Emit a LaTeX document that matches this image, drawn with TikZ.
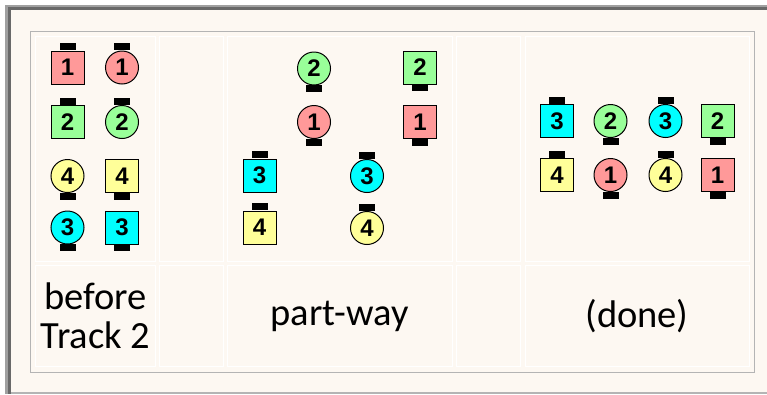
\documentclass[tikz,border=0pt]{standalone}
\usepackage{fontspec}
\setmainfont{Carlito}
\newfontfamily\digfont{Liberation Sans}
\definecolor{cream}{RGB}{253,248,242}
\definecolor{tabgray}{RGB}{180,180,180}
\definecolor{redf}{RGB}{255,153,153}
\definecolor{greenf}{RGB}{153,255,153}
\definecolor{yellowf}{RGB}{255,255,153}
\definecolor{cyanf}{RGB}{0,255,255}
\definecolor{lightband}{RGB}{160,160,160}
\definecolor{darkband}{RGB}{105,105,105}
\tikzset{
  sq/.style={draw=black, line width=1pt, minimum size=33pt, inner sep=0pt, text=black,
    font=\digfont\bfseries\fontsize{24}{24}\selectfont},
  ci/.style={circle, draw=black, line width=1pt, minimum size=33pt, inner sep=0pt, text=black,
    font=\digfont\bfseries\fontsize{24}{24}\selectfont},
  tabbox/.style={fill=black, draw=none, minimum width=16pt, minimum height=7pt, inner sep=0pt, outer sep=0pt},
  tabnorth/.style={anchor=south},
  tabsouth/.style={anchor=north},
  cellbox/.style={fill=cream, draw=white, line width=1pt},
  lab/.style={align=center, font=\fontsize{38.5}{39}\selectfont, text=black, inner sep=0pt}
}
% name, shape, fill, x, y, digit, tab side
\newcommand\tok[7]{%
  \node[#2, fill=#3] (#1) at (#4,#5) {#6};
  \node[tabbox, tab#7] (#1t) at ([yshift=\ifx#7north-0.5pt\else0.5pt\fi]#1.#7) {};
}
\begin{document}
\begin{tikzpicture}[x=1pt,y=-1pt]
\useasboundingbox (0,0) rectangle (767,394);
\fill[white] (0,0) rectangle (767,394);
\fill[lightband] (5,5) rectangle (767,394);
\fill[darkband] (8,7) rectangle (767,394);
\fill[tabgray] (11,10) rectangle (767,394);
\fill[cream] (11,10) rectangle (767,392);
% table
\draw[tabgray, line width=1pt, fill=cream] (30.5,31.5) rectangle (754.5,372.5);
\foreach \xa/\xb in {35/155,159/223,227/452,456/520,525/749}{
  \draw[cellbox] (\xa+0.5,36.5) rectangle (\xb+0.5,261.5);
  \draw[cellbox] (\xa+0.5,265.5) rectangle (\xb+0.5,366.5);
}
% column 1: before
\tok{a1}{sq}{redf}{67.5}{67.5}{1}{north}
\tok{a2}{ci}{redf}{122}{67.5}{1}{north}
\tok{a3}{sq}{greenf}{67.5}{122}{2}{north}
\tok{a4}{ci}{greenf}{122}{122}{2}{north}
\tok{a5}{ci}{yellowf}{67.5}{176}{4}{south}
\tok{a6}{sq}{yellowf}{122}{176}{4}{south}
\tok{a7}{ci}{cyanf}{67.5}{227.5}{3}{south}
\tok{a8}{sq}{cyanf}{122}{227.5}{3}{south}
% column 3: part-way
\tok{b1}{ci}{greenf}{314}{68.5}{2}{south}
\tok{b2}{sq}{greenf}{420}{67.5}{2}{south}
\tok{b3}{ci}{redf}{314}{122}{1}{south}
\tok{b4}{sq}{redf}{420}{122}{1}{south}
\tok{b5}{sq}{cyanf}{259.5}{175.5}{3}{north}
\tok{b6}{ci}{cyanf}{367}{176}{3}{north}
\tok{b7}{sq}{yellowf}{259.5}{227.5}{4}{north}
\tok{b8}{ci}{yellowf}{367}{228}{4}{north}
% column 5: done
\tok{c1}{sq}{cyanf}{557}{121}{3}{north}
\tok{c2}{ci}{greenf}{610.5}{121}{2}{south}
\tok{c3}{ci}{cyanf}{665.5}{121}{3}{north}
\tok{c4}{sq}{greenf}{717.5}{121}{2}{south}
\tok{c5}{sq}{yellowf}{557}{175}{4}{north}
\tok{c6}{ci}{redf}{610.5}{175}{1}{south}
\tok{c7}{ci}{yellowf}{665.5}{175}{4}{north}
\tok{c8}{sq}{redf}{717.5}{175}{1}{south}
% labels
\node[lab] (l1) at (95.5,316) {before\\Track 2};
\node[lab] (l2) at (339.5,316) {part-way};
\node[lab] (l3) at (637,316) {(done)};
\end{tikzpicture}
\end{document}
